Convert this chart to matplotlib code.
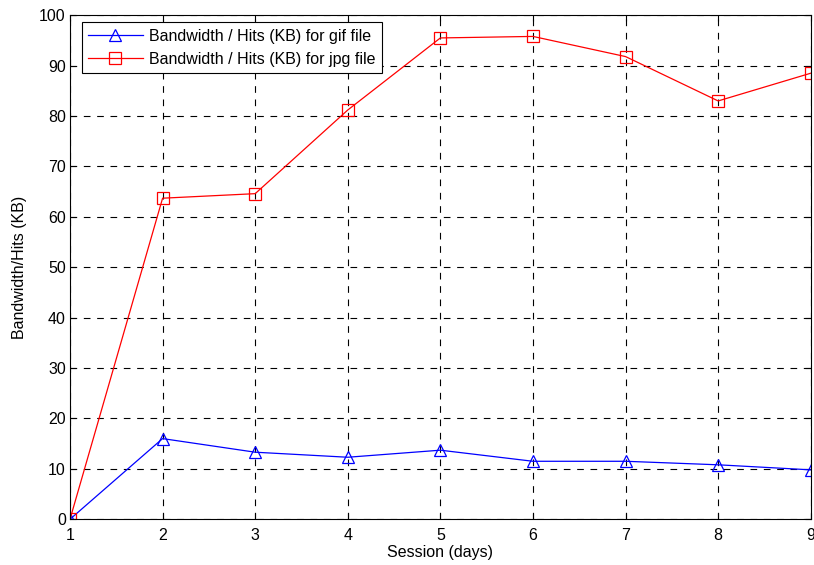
import matplotlib
matplotlib.use("Agg")
import matplotlib.pyplot as plt

plt.rcParams['font.family'] = ['Liberation Sans', 'DejaVu Sans']

# session days
days = [1, 2, 3, 4, 5, 6, 7, 8, 9]
# bandwidth / hits (KB)
gif_vals = [0, 16.0, 13.3, 12.3, 13.7, 11.5, 11.5, 10.8, 9.8]
jpg_vals = [0, 63.7, 64.6, 81.2, 95.5, 95.8, 91.8, 83.0, 88.5]

FS = 11.5

fig = plt.figure(figsize=(8.14, 5.65), dpi=100)
ax = fig.add_axes([0.086, 0.081, 0.91, 0.892])

ax.plot(days, gif_vals, color='blue', lw=0.9, marker='^', ms=9,
        mfc='none', mec='blue', mew=0.9, label='Bandwidth / Hits (KB) for gif file')
ax.plot(days, jpg_vals, color='red', lw=0.9, marker='s', ms=8.5,
        mfc='none', mec='red', mew=0.9, label='Bandwidth / Hits (KB) for jpg file')

ax.set_xlim(1, 9)
ax.set_ylim(0, 100)
ax.set_xticks(days)
ax.set_yticks(range(0, 101, 10))
ax.grid(True, color='black', ls=(0, (6, 6)), lw=0.8)
ax.tick_params(direction='in', labelsize=FS, length=4, width=0.8, top=True, right=True)
ax.tick_params(axis='x', pad=6)
ax.tick_params(axis='y', pad=3)
for s in ax.spines.values():
    s.set_linewidth(0.8)

ax.set_xlabel('Session (days)', fontsize=FS, labelpad=2)
ax.set_ylabel('Bandwidth/Hits (KB)', fontsize=FS, labelpad=9)

leg = ax.legend(loc='upper left', fontsize=FS, fancybox=False, framealpha=1,
                edgecolor='black', borderpad=0.4, handlelength=3.4,
                handletextpad=0.4, borderaxespad=0,
                bbox_to_anchor=(0.016, 0.986))
leg.get_frame().set_linewidth(0.8)

fig.savefig('out.png', dpi=100)
